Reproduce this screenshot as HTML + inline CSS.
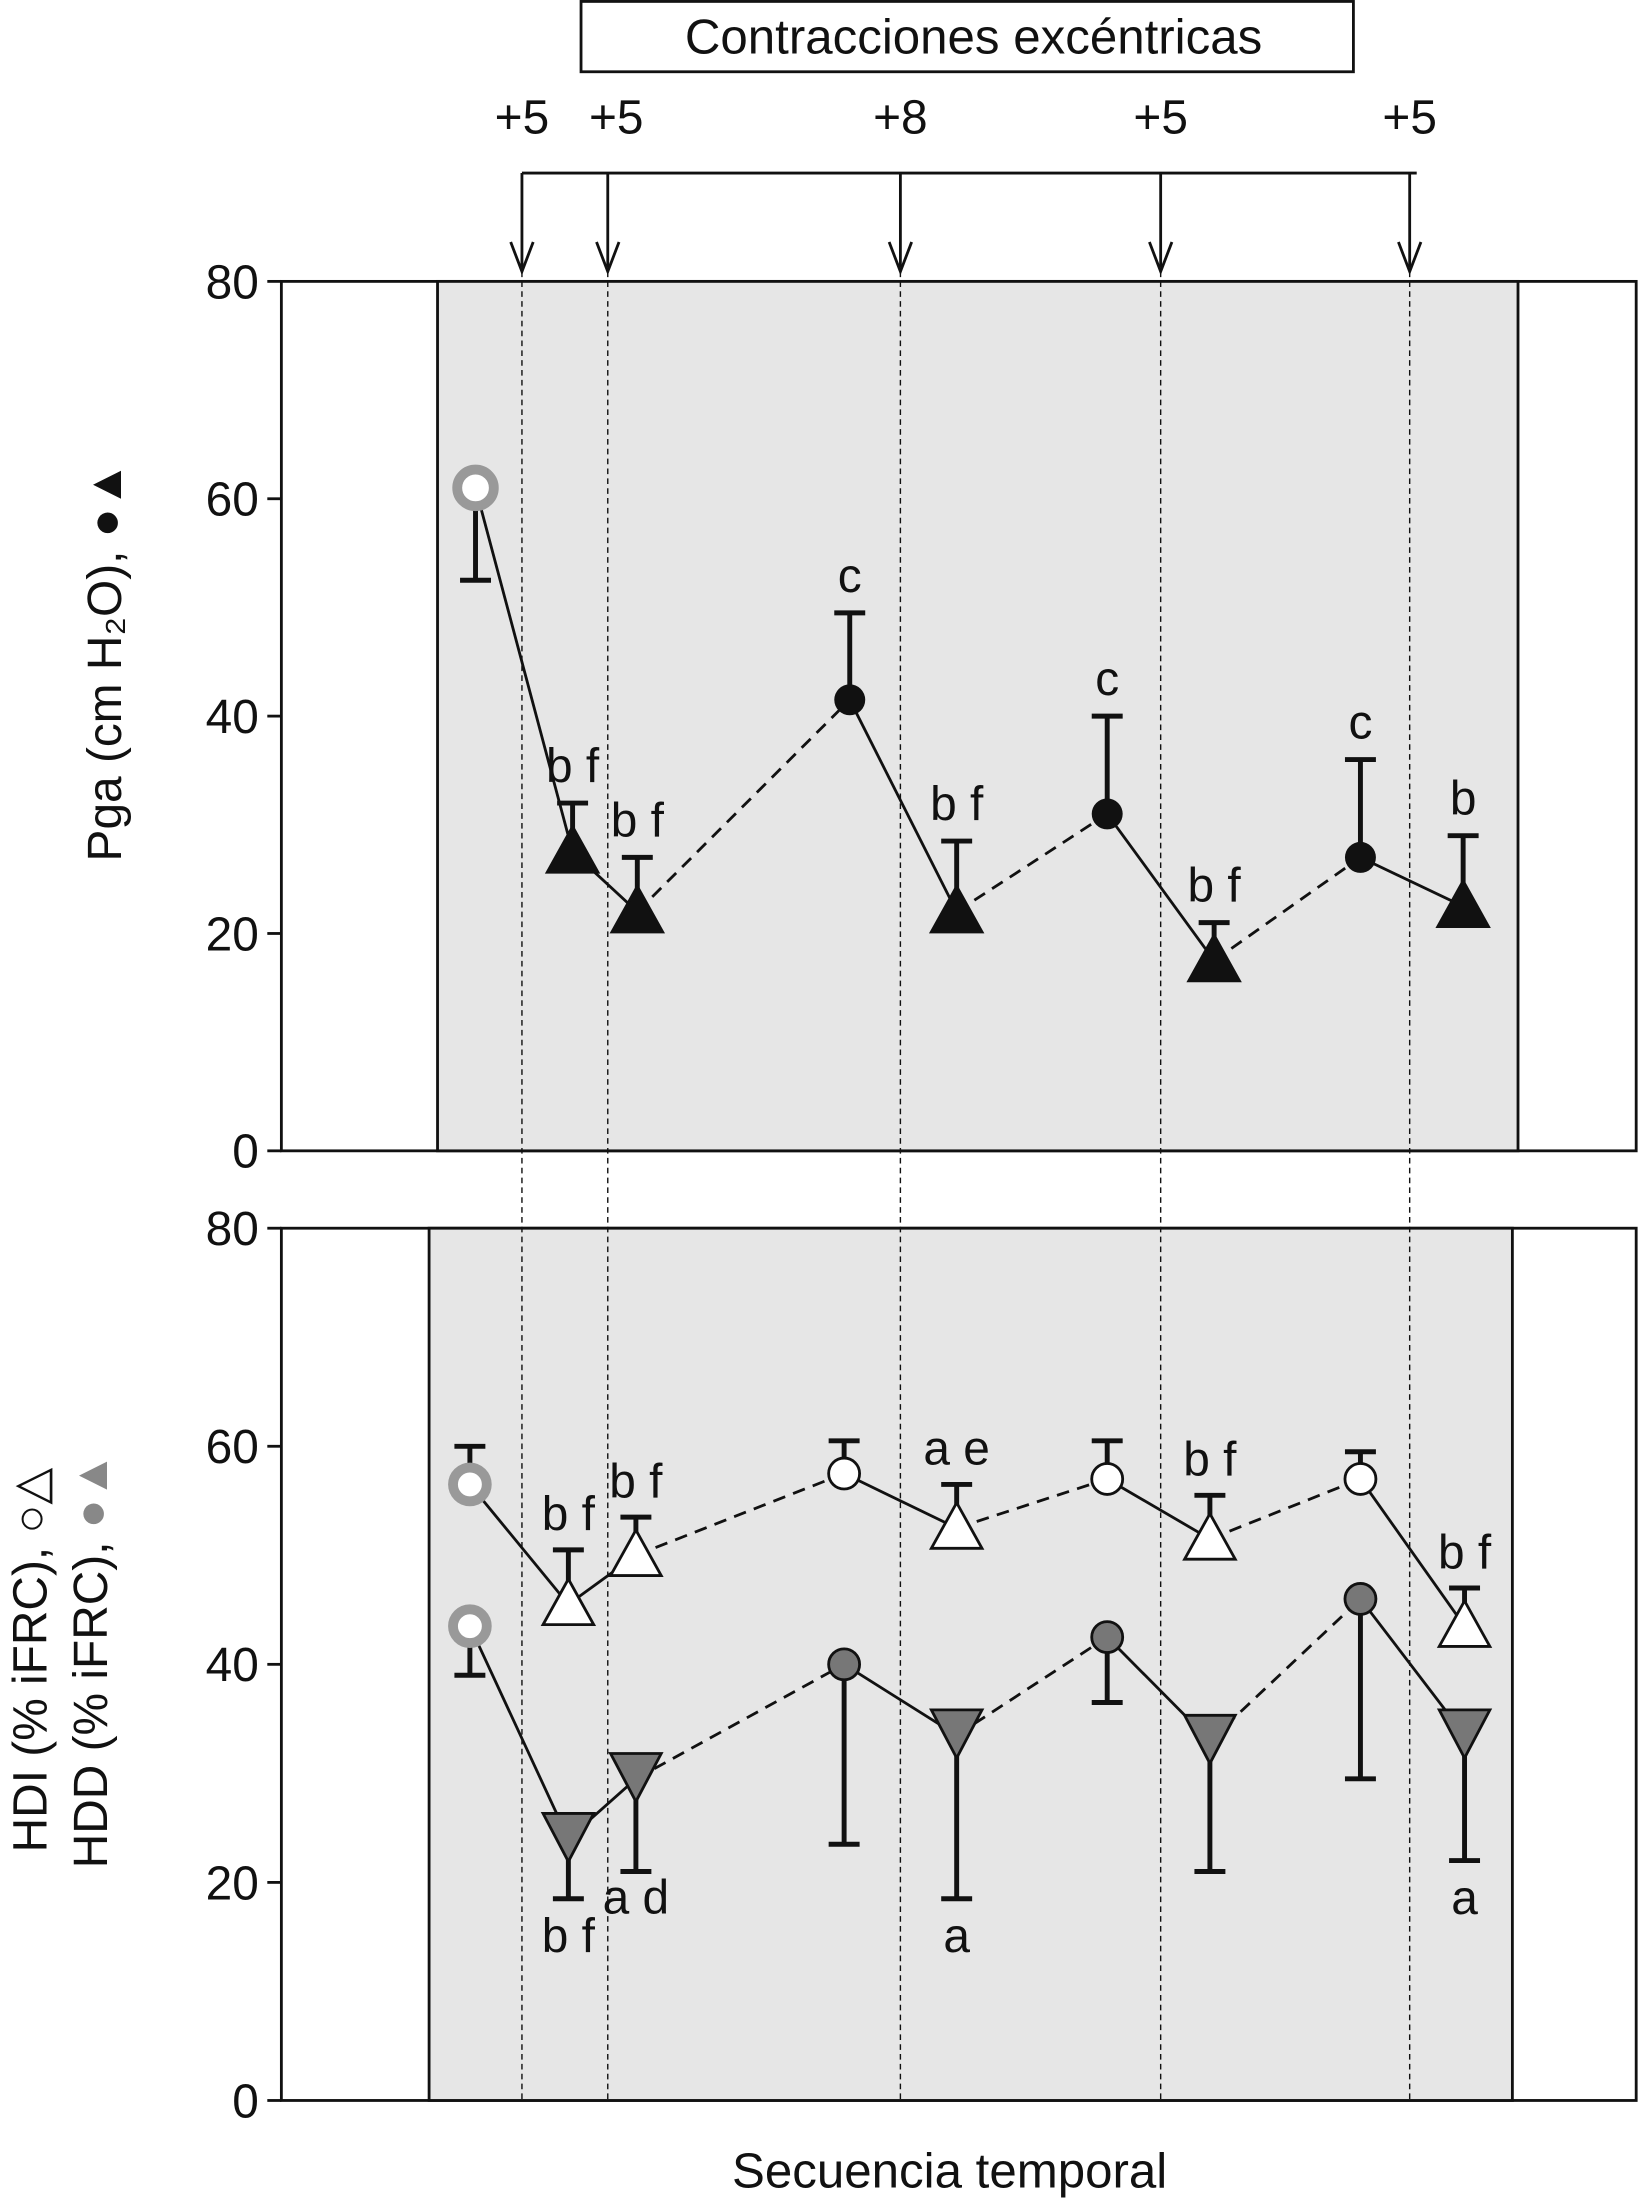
<!DOCTYPE html>
<html><head><meta charset="utf-8"><style>
html,body{margin:0;padding:0;background:#fff}
svg{display:block}
text{font-family:"Liberation Sans",Arial,sans-serif;fill:#111}
</style></head><body>
<svg width="1639" height="2206" viewBox="0 0 1165 1568" xmlns="http://www.w3.org/2000/svg" id="chart">
<g id="g"></g>
</svg>
<script>
const seqX=[338,407,453,604,680,787,863,967,1040];
const pgaVals=[61,27.5,22,41.5,22,31,17.5,27,22.5];
const pgaErr=[52.5,32,27,49.5,28.5,40,21,36,29];
const pgaLabels=['','b f','b f','c','b f','c','b f','c','b'];
const bX=[334,404,452,600,680,787,860,967,1041];
const hdiVals=[56.5,45.5,50,57.5,52.5,57,51.5,57,43.5];
const hdiErr=[60,50.5,53.5,60.5,56.5,60.5,55.5,59.5,47];
const hdiLabels=['','b f','b f','','a e','','b f','','b f'];
const hddVals=[43.5,24,29.5,40,33.5,42.5,33,46,33.5];
const hddErr=[39,18.5,21,23.5,18.5,36.5,21,29.5,22];
const hddLabels=['','b f','a d','','a','','','','a'];
const ticks=[0,20,40,60,80];
const eventX=[371,432,640,825,1002];
const eventLabels=['+5','+5','+8','+5','+5'];
const NS='http://www.w3.org/2000/svg';
const g=document.getElementById('g');
function el(t,a,name,txt){const e=document.createElementNS(NS,t);for(const k in a)e.setAttribute(k,a[k]);


if(txt!==undefined)e.textContent=txt;g.appendChild(e);return e;}
const yTop=v=>818-(v/80)*618;
const yBot=v=>1493-(v/80)*620;
const isCircle=i=>(i==3||i==5||i==7);
el('rect',{x:200,y:200,width:963,height:618,fill:'#fff',stroke:'#111','stroke-width':2},'top-panel');
el('rect',{x:311,y:200,width:768,height:618,fill:'#e6e6e6',stroke:'#111','stroke-width':2},'top-shaded-region');
el('rect',{x:200,y:873,width:963,height:620,fill:'#fff',stroke:'#111','stroke-width':2},'bottom-panel');
el('rect',{x:305,y:873,width:770,height:620,fill:'#e6e6e6',stroke:'#111','stroke-width':2},'bottom-shaded-region');
ticks.forEach(t=>{
 el('line',{x1:190,x2:200,y1:yTop(t),y2:yTop(t),stroke:'#111','stroke-width':2},'top-y-tick');
 el('text',{x:184,y:yTop(t)+12,'font-size':34,'text-anchor':'end'},'top-y-tick-label',t);
 el('line',{x1:190,x2:200,y1:yBot(t),y2:yBot(t),stroke:'#111','stroke-width':2},'bottom-y-tick');
 el('text',{x:184,y:yBot(t)+12,'font-size':34,'text-anchor':'end'},'bottom-y-tick-label',t);
});
el('rect',{x:413,y:1,width:549,height:50,fill:'#fff',stroke:'#111','stroke-width':2},'title-box');
el('text',{x:692,y:38,'font-size':35,'text-anchor':'middle'},'title','Contracciones excéntricas');
el('line',{x1:371,x2:1007,y1:123,y2:123,stroke:'#111','stroke-width':2},'event-bracket');
eventX.forEach((x,i)=>{
 el('line',{x1:x,x2:x,y1:123,y2:190,stroke:'#111','stroke-width':2},'event-arrow');
 el('path',{d:`M${x-8} 172 L${x} 193 L${x+8} 172`,fill:'none',stroke:'#111','stroke-width':2},'event-arrowhead');
 el('text',{x:x+(i==1?6:0),y:95,'font-size':34,'text-anchor':'middle'},'event-label',eventLabels[i]);
 el('line',{x1:x,x2:x,y1:193,y2:1493,stroke:'#111','stroke-width':1,'stroke-dasharray':'4,3'},'event-dashed-line');
});
function connectors(xs,ys,name){
 for(let i=0;i<xs.length-1;i++){
  const dashed=(i==2||i==4||i==6);
  el('line',{x1:xs[i],y1:ys[i],x2:xs[i+1],y2:ys[i+1],stroke:'#111','stroke-width':2,'stroke-dasharray':dashed?'9,6':'none'},name);
 }
}
function errbar(x,y0,y1,name){
 el('line',{x1:x,x2:x,y1:y0,y2:y1,stroke:'#111','stroke-width':3.5},name);
 el('line',{x1:x-11,x2:x+11,y1:y1,y2:y1,stroke:'#111','stroke-width':3.5},name+'-cap');
}
function tri(x,y,fill,down,name){
 const s=18;
 const d=down?`M${x-s} ${y-s} L${x+s} ${y-s} L${x} ${y+s*0.9} Z`:`M${x-s} ${y+s*0.8} L${x+s} ${y+s*0.8} L${x} ${y-s} Z`;
 el('path',{d,fill,stroke:'#111','stroke-width':2},name);
}
const tY=pgaVals.map(yTop);
connectors(seqX,tY,'pga-line');
seqX.forEach((x,i)=>{
 errbar(x,tY[i],yTop(pgaErr[i]),'pga-error-bar');
 if(i==0)el('circle',{cx:x,cy:tY[i],r:13,fill:'#fff',stroke:'#999','stroke-width':7},'pga-baseline-marker');
 else if(isCircle(i))el('circle',{cx:x,cy:tY[i],r:11,fill:'#111'},'pga-circle');
 else tri(x,tY[i],'#111',false,'pga-triangle');
 if(pgaLabels[i])el('text',{x:x,y:yTop(pgaErr[i])-15,'font-size':34,'text-anchor':'middle'},'pga-sig-label',pgaLabels[i]);
});
const dY=hddVals.map(yBot);
connectors(bX,dY,'hdd-line');
bX.forEach((x,i)=>{
 errbar(x,dY[i],yBot(hddErr[i]),'hdd-error-bar');
 if(i==0)el('circle',{cx:x,cy:dY[i],r:12,fill:'#fff',stroke:'#999','stroke-width':7},'hdd-baseline-marker');
 else if(isCircle(i))el('circle',{cx:x,cy:dY[i],r:11,fill:'#777',stroke:'#111','stroke-width':2},'hdd-circle');
 else tri(x,dY[i],'#777',true,'hdd-triangle');
 if(hddLabels[i])el('text',{x:x,y:yBot(hddErr[i])+(i==2?30:38),'font-size':34,'text-anchor':'middle'},'hdd-sig-label',hddLabels[i]);
});
const iY=hdiVals.map(yBot);
connectors(bX,iY,'hdi-line');
bX.forEach((x,i)=>{
 errbar(x,iY[i],yBot(hdiErr[i]),'hdi-error-bar');
 if(i==0)el('circle',{cx:x,cy:iY[i],r:12,fill:'#fff',stroke:'#999','stroke-width':7},'hdi-baseline-marker');
 else if(isCircle(i))el('circle',{cx:x,cy:iY[i],r:11,fill:'#fff',stroke:'#111','stroke-width':2},'hdi-circle');
 else tri(x,iY[i],'#fff',false,'hdi-triangle');
 if(hdiLabels[i])el('text',{x:x,y:yBot(hdiErr[i])-14,'font-size':34,'text-anchor':'middle'},'hdi-sig-label',hdiLabels[i]);
});
el('text',{x:0,y:0,'font-size':34,'text-anchor':'middle',transform:'translate(86,470) rotate(-90)'},'top-y-axis-title','Pga (cm H₂O), ●▲');
el('text',{x:0,y:0,'font-size':34,'text-anchor':'middle',transform:'translate(33,1180) rotate(-90)'},'bottom-y-axis-title-hdi','HDI (% iFRC), ○△');
const t3=el('text',{x:0,y:0,'font-size':34,'text-anchor':'middle',transform:'translate(76,1180) rotate(-90)'},'bottom-y-axis-title-hdd','HDD (% iFRC), ');
const ts=document.createElementNS(NS,'tspan');ts.setAttribute('fill','#888');ts.style.fill='#888';ts.textContent='●▲';


t3.appendChild(ts);
el('text',{x:675,y:1555,'font-size':35,'text-anchor':'middle'},'x-axis-title','Secuencia temporal');
</script>
</body></html>
